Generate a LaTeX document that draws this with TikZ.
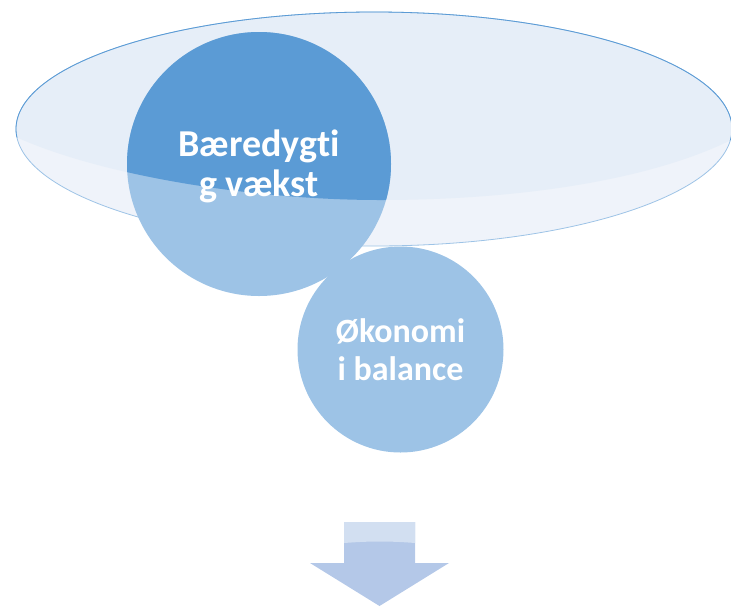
\documentclass[tikz,border=0pt]{standalone}
\usepackage{fontspec}
\setmainfont{Carlito}[Ligatures=NoCommon]
\usetikzlibrary{positioning}

\definecolor{bubbledark}{HTML}{5B9BD5}
\definecolor{bubblelight}{HTML}{9DC3E6}
\definecolor{funneltop}{HTML}{E6EEF8}
\definecolor{funnelbottom}{HTML}{EFF3FA}
\definecolor{arrowfill}{HTML}{B4C8E8}
\definecolor{arrowtop}{HTML}{D2DFF1}

\begin{document}
\begin{tikzpicture}[
    x=1pt, y=-1pt,
    label text/.style={text=white, font=\bfseries, align=center},
]
    \useasboundingbox (0,0) rectangle (731,606);

    % funnel rim
    \fill[funnelbottom] (374,129) ellipse (358 and 117);
    \begin{scope}
        \clip (374,129) ellipse (358 and 117);
        \fill[funneltop] (0,0) -- (16,137) .. controls (100,175) and (250,200) .. (380,200)
            .. controls (520,200) and (650,180) .. (731,140) -- (740,0) -- cycle;
    \end{scope}
    \draw[bubblelight, line width=0.8pt] (374,129) ellipse (358 and 117);
    \begin{scope}
        \clip (0,0) -- (16,137) .. controls (100,175) and (250,200) .. (380,200)
            .. controls (520,200) and (650,180) .. (731,140) -- (740,0) -- cycle;
        \draw[bubbledark, line width=0.8pt] (374,129) ellipse (358 and 117);
    \end{scope}

    % big bubble
    \coordinate (G) at (259,164);
    \fill[bubblelight] (G) circle (132);
    \begin{scope}
        \clip (374,129) ellipse (358 and 117);
        \clip (0,0) -- (16,137) .. controls (100,175) and (250,200) .. (380,200)
            .. controls (520,200) and (650,180) .. (731,140) -- (740,0) -- cycle;
        \fill[bubbledark] (G) circle (132);
    \end{scope}
    \node[label text, font=\fontsize{38}{40}\selectfont\bfseries] (growth) at (259,166) {Bæredygt\kern0pt i\\g vækst};

    % small bubble
    \node[circle, fill=bubblelight, minimum size=206pt, inner sep=0pt] (economy) at (400.5,349.5) {};
    \node[label text, font=\fontsize{34}{38}\selectfont\bfseries] (economytext) at (economy.center) {Økonomi\\i balance};

    % arrow
    \fill[arrowfill] (344,522) -- (415,522) -- (415,563) -- (449,563) -- (379.5,606)
        -- (310,563) -- (344,563) -- cycle;
    \fill[arrowtop] (344,522) -- (415,522) -- (415,543) .. controls (390,541) and (370,541) .. (344,543) -- cycle;
\end{tikzpicture}
\end{document}
